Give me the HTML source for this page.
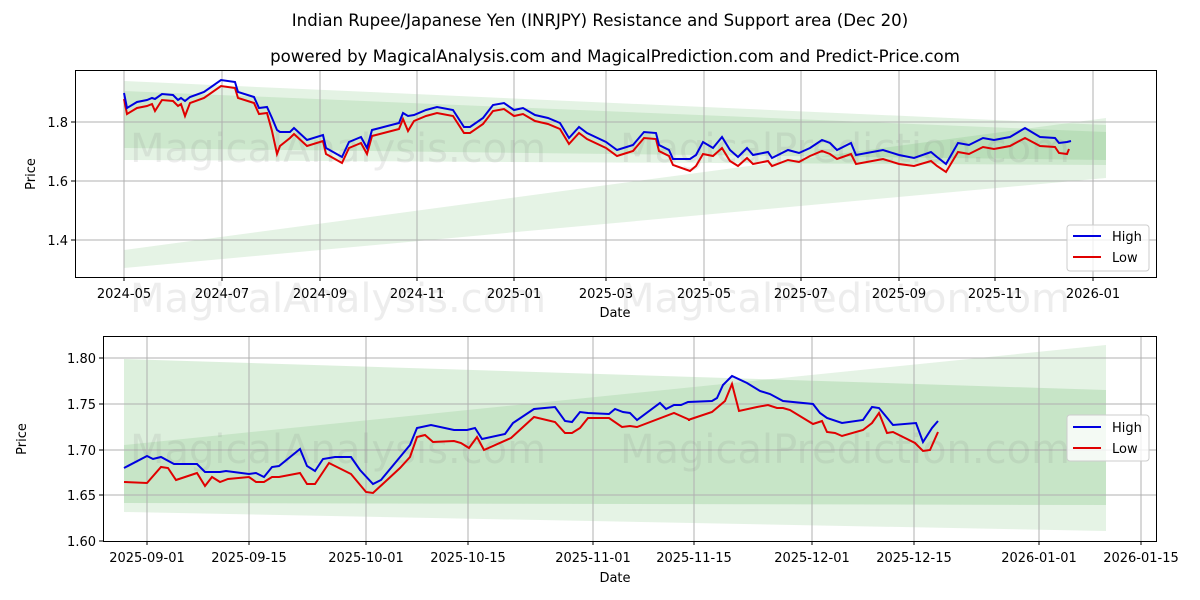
<!DOCTYPE html>
<html><head><meta charset="utf-8"><style>
body{margin:0;background:#fff}
svg{display:block;font-family:"DejaVu Sans","Liberation Sans",sans-serif}
</style></head><body>
<svg width="1200" height="600" viewBox="0 0 1200 600" xmlns="http://www.w3.org/2000/svg">
<rect width="1200" height="600" fill="#fff"/>
<text x="600" y="26" font-size="16.6" text-anchor="middle">Indian Rupee/Japanese Yen (INRJPY) Resistance and Support area (Dec 20)</text>
<text x="615" y="62" font-size="16.6" text-anchor="middle">powered by MagicalAnalysis.com and MagicalPrediction.com and Predict-Price.com</text>

<!-- TOP CHART -->
<g>
<polygon points="124,81 1106,125 1106,165 124,160" fill="#2ca02c" fill-opacity="0.13"/>
<polygon points="124,91 1106,132 1106,160 124,148" fill="#2ca02c" fill-opacity="0.12"/>
<polygon points="124,250 1106,118 1106,178 124,268" fill="#2ca02c" fill-opacity="0.12"/>
<g stroke="#b0b0b0" stroke-width="1">
<line x1="124" y1="70" x2="124" y2="277"/><line x1="222" y1="70" x2="222" y2="277"/><line x1="320" y1="70" x2="320" y2="277"/><line x1="417" y1="70" x2="417" y2="277"/><line x1="514" y1="70" x2="514" y2="277"/><line x1="606" y1="70" x2="606" y2="277"/><line x1="704" y1="70" x2="704" y2="277"/><line x1="801" y1="70" x2="801" y2="277"/><line x1="899" y1="70" x2="899" y2="277"/><line x1="995" y1="70" x2="995" y2="277"/><line x1="1093" y1="70" x2="1093" y2="277"/>
<line x1="75" y1="122" x2="1157" y2="122"/><line x1="75" y1="181" x2="1157" y2="181"/><line x1="75" y1="240" x2="1157" y2="240"/>
</g>
<text x="130" y="162" font-size="40" fill="#888" fill-opacity="0.15">MagicalAnalysis.com</text>
<text x="620" y="162" font-size="40" fill="#888" fill-opacity="0.15">MagicalPrediction.com</text>
<text x="130" y="312" font-size="40" fill="#888" fill-opacity="0.15">MagicalAnalysis.com</text>
<text x="620" y="312" font-size="40" fill="#888" fill-opacity="0.15">MagicalPrediction.com</text>
<polyline fill="none" stroke="#e00000" stroke-width="2" transform="translate(0,6)" points="124,93 127,108 137,102 147,100 152,98 155,105 162,94 173,95 178,100 181,98 185,110 190,97 204,92 221,80 235,82 238,92 254,97 259,108 267,107 272,125 277,148 280,140 290,132 294,128 307,140 323,135 326,148 342,157 349,142 361,137 367,148 372,130 399,123 403,113 408,125 414,115 426,110 437,107 453,110 464,127 470,127 483,118 493,105 504,103 514,110 523,108 535,115 548,118 560,123 569,138 579,127 587,133 606,142 617,150 633,145 644,132 656,133 659,145 669,150 673,159 690,165 696,160 703,148 713,150 722,142 730,155 738,160 747,152 753,158 768,155 772,160 788,154 799,156 810,150 822,145 830,148 837,153 851,148 856,158 883,153 899,158 914,160 931,155 937,160 946,166 958,146 969,148 983,141 994,143 1010,140 1025,132 1040,140 1055,141 1059,147 1067,148 1069,143"/>
<polyline fill="none" stroke="#0000e0" stroke-width="2" points="124,93 127,108 137,102 147,100 152,98 155,99 162,94 173,95 178,100 181,98 185,101 190,97 204,92 221,80 235,82 238,92 254,97 259,108 267,107 272,118 277,130 280,132 290,132 294,128 307,140 323,135 326,148 342,157 349,142 361,137 367,148 372,130 399,123 403,113 408,116 414,115 426,110 437,107 453,110 464,127 470,127 483,118 493,105 504,103 514,110 523,108 535,115 548,118 560,123 569,138 579,127 587,133 606,142 617,150 633,145 644,132 656,133 659,145 669,150 673,159 690,159 696,155 703,142 713,148 722,137 730,150 738,157 747,148 753,155 768,152 772,158 788,150 799,153 810,148 822,140 830,143 837,150 851,143 856,155 883,150 899,155 914,158 931,152 937,157 946,164 958,143 969,145 983,138 994,140 1010,137 1025,128 1040,137 1055,138 1059,143 1067,142 1071,141"/>
<rect x="75.5" y="70.5" width="1081" height="207" fill="none" stroke="#000" stroke-width="1"/>
<g font-size="13" text-anchor="middle">
<text x="124" y="298">2024-05</text><text x="222" y="298">2024-07</text><text x="320" y="298">2024-09</text><text x="417" y="298">2024-11</text><text x="514" y="298">2025-01</text><text x="606" y="298">2025-03</text><text x="704" y="298">2025-05</text><text x="801" y="298">2025-07</text><text x="899" y="298">2025-09</text><text x="995" y="298">2025-11</text><text x="1093" y="298">2026-01</text>
<text x="615" y="317">Date</text>
</g>
<g stroke="#000"><line x1="124" y1="277" x2="124" y2="281"/><line x1="222" y1="277" x2="222" y2="281"/><line x1="320" y1="277" x2="320" y2="281"/><line x1="417" y1="277" x2="417" y2="281"/><line x1="514" y1="277" x2="514" y2="281"/><line x1="606" y1="277" x2="606" y2="281"/><line x1="704" y1="277" x2="704" y2="281"/><line x1="801" y1="277" x2="801" y2="281"/><line x1="899" y1="277" x2="899" y2="281"/><line x1="995" y1="277" x2="995" y2="281"/><line x1="1093" y1="277" x2="1093" y2="281"/>
<line x1="71" y1="122" x2="75" y2="122"/><line x1="71" y1="181" x2="75" y2="181"/><line x1="71" y1="240" x2="75" y2="240"/></g>
<g font-size="13" text-anchor="end"><text x="68" y="127">1.8</text><text x="68" y="186">1.6</text><text x="68" y="245">1.4</text></g>
<text x="35" y="174" font-size="13" text-anchor="middle" transform="rotate(-90 35 174)">Price</text>
<rect x="1067" y="225" width="82" height="46" rx="3" fill="#fff" fill-opacity="0.8" stroke="#ccc"/>
<line x1="1073" y1="236" x2="1101" y2="236" stroke="#0000e0" stroke-width="2"/>
<line x1="1073" y1="257" x2="1101" y2="257" stroke="#e00000" stroke-width="2"/>
<text x="1112" y="241" font-size="13">High</text><text x="1112" y="262" font-size="13">Low</text>
</g>

<!-- BOTTOM CHART -->
<g>
<polygon points="124,359 1106,390 1106,505 124,503" fill="#2ca02c" fill-opacity="0.16"/>
<polygon points="124,445 1106,345 1106,531 124,512" fill="#2ca02c" fill-opacity="0.12"/>
<g stroke="#b0b0b0" stroke-width="1">
<line x1="147" y1="336" x2="147" y2="541"/><line x1="249" y1="336" x2="249" y2="541"/><line x1="366" y1="336" x2="366" y2="541"/><line x1="468" y1="336" x2="468" y2="541"/><line x1="593" y1="336" x2="593" y2="541"/><line x1="694" y1="336" x2="694" y2="541"/><line x1="812" y1="336" x2="812" y2="541"/><line x1="914" y1="336" x2="914" y2="541"/><line x1="1039" y1="336" x2="1039" y2="541"/><line x1="1141" y1="336" x2="1141" y2="541"/>
<line x1="103" y1="358" x2="1157" y2="358"/><line x1="103" y1="404" x2="1157" y2="404"/><line x1="103" y1="450" x2="1157" y2="450"/><line x1="103" y1="495" x2="1157" y2="495"/>
</g>
<text x="130" y="463" font-size="40" fill="#888" fill-opacity="0.15">MagicalAnalysis.com</text>
<text x="620" y="463" font-size="40" fill="#888" fill-opacity="0.15">MagicalPrediction.com</text>
<polyline fill="none" stroke="#e00000" stroke-width="2" points="124,482 147,483 161,467 168,468 176,480 197,473 205,486 212,477 220,482 228,479 249,477 256,482 264,482 272,477 279,477 300,473 307,484 315,484 329,463 351,474 366,492 373,493 400,468 410,457 417,437 425,435 433,442 454,441 461,443 469,448 477,437 484,450 511,438 534,417 555,422 565,433 572,433 580,428 588,418 609,418 622,427 630,426 637,427 674,413 690,420 688,420 712,412 725,401 732,384 739,411 757,407 768,405 777,408 783,408 790,410 813,424 822,421 827,432 835,433 842,436 863,430 872,423 879,413 887,433 893,432 915,443 923,451 930,450 938,432"/>
<polyline fill="none" stroke="#0000e0" stroke-width="2" points="124,468 147,456 153,459 161,457 174,464 197,464 205,472 220,472 226,471 249,474 256,473 264,477 272,467 279,466 300,449 307,466 315,471 323,459 335,457 351,457 360,470 373,484 381,480 410,445 417,428 431,425 454,430 467,430 475,428 482,439 505,434 513,423 534,409 555,407 565,421 572,422 580,412 588,413 609,414 615,409 623,412 630,413 637,420 660,403 666,409 674,405 681,405 688,402 712,401 717,398 723,385 732,376 747,383 760,391 770,394 783,401 813,404 820,413 827,418 842,423 863,420 872,407 879,408 893,425 916,423 923,442 932,428 938,421"/>
<rect x="103.5" y="336.5" width="1053" height="205" fill="none" stroke="#000" stroke-width="1"/>
<g stroke="#000"><line x1="147" y1="541" x2="147" y2="545"/><line x1="249" y1="541" x2="249" y2="545"/><line x1="366" y1="541" x2="366" y2="545"/><line x1="468" y1="541" x2="468" y2="545"/><line x1="593" y1="541" x2="593" y2="545"/><line x1="694" y1="541" x2="694" y2="545"/><line x1="812" y1="541" x2="812" y2="545"/><line x1="914" y1="541" x2="914" y2="545"/><line x1="1039" y1="541" x2="1039" y2="545"/><line x1="1141" y1="541" x2="1141" y2="545"/>
<line x1="99" y1="358" x2="103" y2="358"/><line x1="99" y1="404" x2="103" y2="404"/><line x1="99" y1="450" x2="103" y2="450"/><line x1="99" y1="495" x2="103" y2="495"/><line x1="99" y1="541" x2="103" y2="541"/></g>
<g font-size="13" text-anchor="middle">
<text x="147" y="562">2025-09-01</text><text x="249" y="562">2025-09-15</text><text x="366" y="562">2025-10-01</text><text x="468" y="562">2025-10-15</text><text x="593" y="562">2025-11-01</text><text x="694" y="562">2025-11-15</text><text x="812" y="562">2025-12-01</text><text x="914" y="562">2025-12-15</text><text x="1039" y="562">2026-01-01</text><text x="1141" y="562">2026-01-15</text>
<text x="615" y="582">Date</text>
</g>
<g font-size="13" text-anchor="end"><text x="96" y="363">1.80</text><text x="96" y="409">1.75</text><text x="96" y="455">1.70</text><text x="96" y="500">1.65</text><text x="96" y="546">1.60</text></g>
<text x="26" y="439" font-size="13" text-anchor="middle" transform="rotate(-90 26 439)">Price</text>
<rect x="1067" y="415" width="82" height="46" rx="3" fill="#fff" fill-opacity="0.8" stroke="#ccc"/>
<line x1="1073" y1="427" x2="1101" y2="427" stroke="#0000e0" stroke-width="2"/>
<line x1="1073" y1="448" x2="1101" y2="448" stroke="#e00000" stroke-width="2"/>
<text x="1112" y="432" font-size="13">High</text><text x="1112" y="453" font-size="13">Low</text>
</g>
</svg>
</body></html>
